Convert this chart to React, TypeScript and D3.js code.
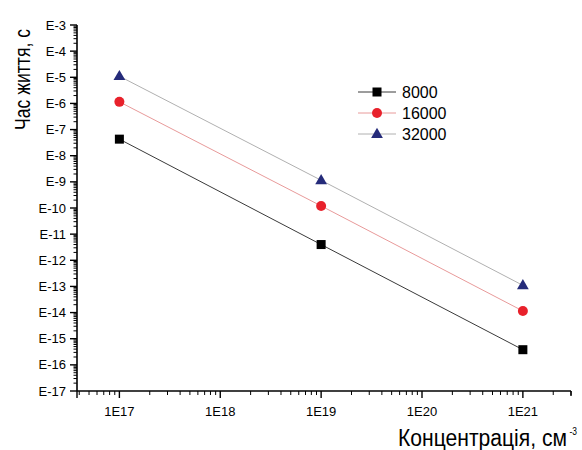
import React from "react";
import * as d3 from "d3";

const concentrations = [1e17, 1e19, 1e21];
const seriesNames = ["8000", "16000", "32000"];
const values8000 = [4.3e-8, 4.0e-12, 3.8e-16];
const values16000 = [1.15e-6, 1.2e-10, 1.15e-14];
const values32000 = [1.1e-5, 1.15e-9, 1.1e-13];
const xTickLabels = ["1E17", "1E18", "1E19", "1E20", "1E21"];
const yTickLabels = ["E-3", "E-4", "E-5", "E-6", "E-7", "E-8", "E-9", "E-10", "E-11", "E-12", "E-13", "E-14", "E-15", "E-16", "E-17"];

const W = 582;
const H = 450;

export default function App() {
  const x = d3.scaleLog().domain([3.8e16, 3e21]).range([77, 571]);
  const y = d3.scaleLog().domain([1e-17, 1e-3]).range([391, 25]);

  const xMajor = xTickLabels.map((_, i) => Math.pow(10, 17 + i));
  const yMajor = yTickLabels.map((_, i) => Math.pow(10, -3 - i));

  const xMinor: number[] = [];
  for (let d = 16; d <= 21; d++) {
    for (let k = 2; k <= 9; k++) {
      const v = k * Math.pow(10, d);
      if (v >= 3.8e16 && v <= 3.01e21) xMinor.push(v);
    }
  }
  const yMinor: number[] = [];
  for (let d = -17; d < -3; d++) {
    for (let k = 2; k <= 9; k++) yMinor.push(k * Math.pow(10, d));
  }

  const series = [
    { name: seriesNames[0], vals: values8000, line: "#3a3a3a", fill: "#000000", shape: "square" },
    { name: seriesNames[1], vals: values16000, line: "#e89a9a", fill: "#e8212b", shape: "circle" },
    { name: seriesNames[2], vals: values32000, line: "#b0b0b0", fill: "#252b7a", shape: "triangle" },
  ];

  const line = d3
    .line<[number, number]>()
    .x((d) => x(d[0]))
    .y((d) => y(d[1]));

  const marker = (shape: string, cx: number, cy: number, fill: string, key: string) => {
    if (shape === "square") return <rect key={key} x={cx - 4.5} y={cy - 4.5} width={9} height={9} fill={fill} />;
    if (shape === "circle") return <circle key={key} cx={cx} cy={cy} r={5} fill={fill} />;
    const sym = d3.symbol().type(d3.symbolTriangle).size(60)();
    return <path key={key} d={sym || ""} transform={`translate(${cx},${cy + 0.5})`} fill={fill} />;
  };

  const legendY = [92, 113, 134];
  const axisFont = "Arial, 'Liberation Sans', sans-serif";

  return (
    <svg width={W} height={H} style={{ position: "absolute", left: 0, top: 0, background: "#fff" }}>
      <rect x={0} y={0} width={W} height={H} fill="#fff" />
      {series.map((s) => (
        <path
          key={"l" + s.name}
          d={line(concentrations.map((c, i) => [c, s.vals[i]] as [number, number])) || ""}
          fill="none"
          stroke={s.line}
          strokeWidth={1}
        />
      ))}
      {series.map((s) =>
        concentrations.map((c, i) => marker(s.shape, x(c), y(s.vals[i]), s.fill, s.name + "m" + i))
      )}

      <line x1={77} x2={77} y1={y(1e-3)} y2={y(1e-17)} stroke="#000" strokeWidth={1.6} />
      <line x1={77} x2={x(3e21)} y1={391} y2={391} stroke="#000" strokeWidth={1.6} />
      {yMajor.map((v, i) => (
        <g key={"ym" + i}>
          <line x1={70} x2={77} y1={y(v)} y2={y(v)} stroke="#000" strokeWidth={1.4} />
          <text x={66} y={y(v) + 4.5} textAnchor="end" fontSize={13} fontFamily={axisFont} fill="#000">
            {yTickLabels[i]}
          </text>
        </g>
      ))}
      {yMinor.map((v, i) => (
        <line key={"yn" + i} x1={73.5} x2={77} y1={y(v)} y2={y(v)} stroke="#000" strokeWidth={1} />
      ))}
      {xMajor.map((v, i) => (
        <g key={"xm" + i}>
          <line x1={x(v)} x2={x(v)} y1={391} y2={398} stroke="#000" strokeWidth={1.4} />
          <text x={x(v)} y={416} textAnchor="middle" fontSize={13} fontFamily={axisFont} fill="#000">
            {xTickLabels[i]}
          </text>
        </g>
      ))}
      {xMinor.map((v, i) => (
        <line key={"xn" + i} x1={x(v)} x2={x(v)} y1={391} y2={395} stroke="#000" strokeWidth={1} />
      ))}
      <line x1={77} x2={77} y1={391} y2={398} stroke="#000" strokeWidth={1.4} />
      <line x1={x(3e21)} x2={x(3e21)} y1={391} y2={396} stroke="#000" strokeWidth={1.4} />

      {series.map((s, i) => (
        <g key={"lg" + s.name}>
          <line x1={358} x2={396} y1={legendY[i]} y2={legendY[i]} stroke={s.line} strokeWidth={1} />
          {marker(s.shape, 377, legendY[i], s.fill, "lgm" + i)}
          <text x={402} y={legendY[i] + 6} fontSize={16} fontFamily={axisFont} fill="#000">
            {s.name}
          </text>
        </g>
      ))}

      <text
        transform="translate(30,130) rotate(-90)"
        textAnchor="start"
        fontSize={22}
        fontFamily={axisFont}
        textLength={101}
        lengthAdjust="spacingAndGlyphs"
        fill="#000"
      >
        Час життя, с
      </text>
      <text x={398} y={446} fontFamily={axisFont} fill="#000">
        <tspan fontSize={23} textLength={169} lengthAdjust="spacingAndGlyphs">
          Концентрація, см
        </tspan>
        <tspan x={569.5} y={435} fontSize={11} textLength={7.5} lengthAdjust="spacingAndGlyphs">
          -3
        </tspan>
      </text>
    </svg>
  );
}
